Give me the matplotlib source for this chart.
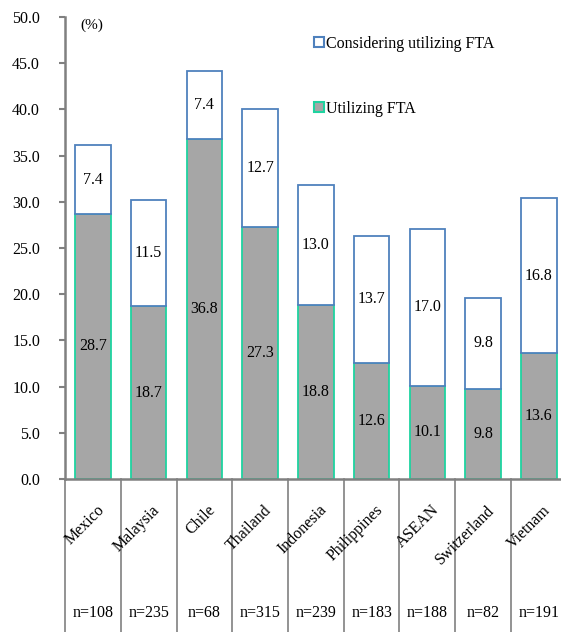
import numpy as np
import matplotlib.pyplot as plt
from matplotlib.patches import Patch

plt.rcParams['font.family'] = ['Liberation Serif', 'DejaVu Serif']

# podily firem vyuzivajicich FTA (%) podle partnera
zeme = ["Mexico", "Malaysia", "Chile", "Thailand", "Indonesia",
        "Philippines", "ASEAN", "Switzerland", "Vietnam"]
vzorek = [108, 235, 68, 315, 239, 183, 188, 82, 191]
vyuziva = [28.7, 18.7, 36.8, 27.3, 18.8, 12.6, 10.1, 9.8, 13.6]
zvazuje = [7.4, 11.5, 7.4, 12.7, 13.0, 13.7, 17.0, 9.8, 16.8]

seda = "#808080"
zelena = "#1fd3a0"
modra = "#4f81bd"
fs = 11.5

fig = plt.figure(figsize=(5.61, 6.32), dpi=100)
# osa zasahuje mirne za pravy okraj obrazku
ax = fig.add_axes([0.1159, 0.242, 0.8943, 0.731])

x = np.arange(len(zeme))
ax.bar(x, vyuziva, width=0.64, color="#a6a6a6", edgecolor=zelena, linewidth=1.3)
ax.bar(x, zvazuje, bottom=vyuziva, width=0.64, color="white", edgecolor=modra, linewidth=1.3)

# popisky hodnot doprostred segmentu
for i in range(len(zeme)):
    ax.text(x[i], vyuziva[i] / 2, f"{vyuziva[i]:.1f}", ha="center", va="center", fontsize=fs)
    ax.text(x[i], vyuziva[i] + zvazuje[i] / 2, f"{zvazuje[i]:.1f}", ha="center", va="center", fontsize=fs)

ax.set_xlim(-0.5, len(zeme) - 0.5)
ax.set_ylim(0, 50)
ax.set_yticks(np.arange(0, 50.1, 5))
ax.set_yticklabels([f"{v:.1f}" for v in np.arange(0, 50.1, 5)], fontsize=fs)
ax.set_xticks([])
ax.tick_params(axis="y", direction="out", length=4, width=1.5, color=seda, pad=14)

for s in ["top", "right"]:
    ax.spines[s].set_visible(False)
ax.spines["left"].set_color(seda)
ax.spines["left"].set_linewidth(1.8)
ax.spines["bottom"].set_color(seda)
ax.spines["bottom"].set_linewidth(1.8)

# svisle oddelovace pod osou a popisky kategorii
tr = ax.get_xaxis_transform()
for k in range(len(zeme) + 1):
    ax.plot([k - 0.5, k - 0.5], [0, -0.335], transform=tr, color=seda, lw=1.2, clip_on=False)
for i, nazev in enumerate(zeme):
    ax.text(i + 0.06, -0.05, nazev, transform=tr, rotation=45, ha="right", va="top",
            rotation_mode="anchor", fontsize=fs)
    ax.text(i, -0.29, f"n={vzorek[i]}", transform=tr, ha="center", va="center", fontsize=fs)

ax.text(0.03, 0.983, "(%)", transform=ax.transAxes, ha="left", va="center", fontsize=fs - 0.5)

ax.legend(handles=[Patch(facecolor="white", edgecolor=modra, lw=1.5),
                   Patch(facecolor="#a6a6a6", edgecolor=zelena, lw=1.5)],
          labels=["Considering utilizing FTA", "Utilizing FTA"],
          loc="upper left", bbox_to_anchor=(0.4836, 0.973), frameon=False,
          handlelength=0.6, handleheight=0.6, handletextpad=0.15,
          labelspacing=3.05, fontsize=fs, borderaxespad=0)

fig.savefig("out.png", dpi=100)
